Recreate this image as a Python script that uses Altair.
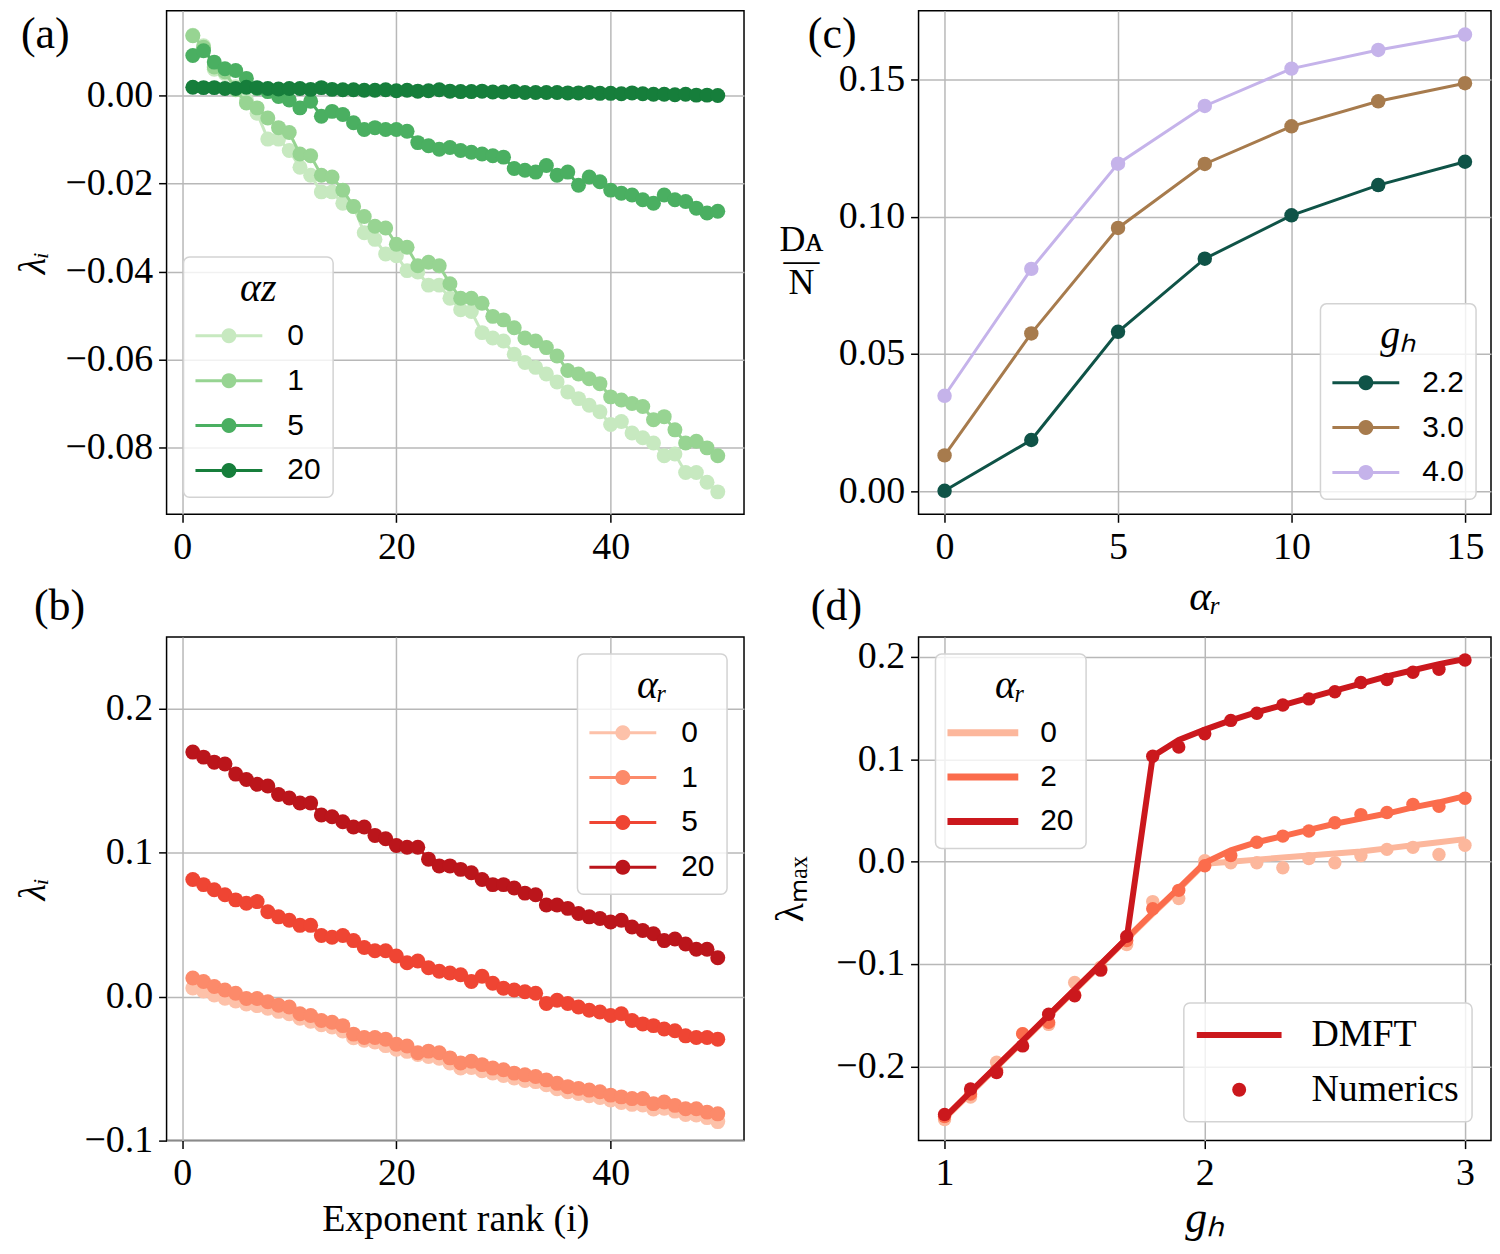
import math
import altair as alt
import pandas as pd

# ---------------- data ----------------
rank = list(range(1, 51))

a_labels = ["0", "1", "5", "20"]
a_az0 = [0.0137, 0.0113, 0.0060, 0.0050, 0.0020, -0.0010, -0.0040, -0.0099, -0.0099, -0.0125,
         -0.0163, -0.0181, -0.0219, -0.0219, -0.0245, -0.0252, -0.0312, -0.0327, -0.0360, -0.0364,
         -0.0398, -0.0401, -0.0431, -0.0431, -0.0461, -0.0487, -0.0491, -0.0539, -0.0551, -0.0558,
         -0.0588, -0.0607, -0.0618, -0.0633, -0.0651, -0.0674, -0.0689, -0.0704, -0.0719, -0.0748,
         -0.0741, -0.0767, -0.0778, -0.0790, -0.0819, -0.0815, -0.0857, -0.0857, -0.0879, -0.0901]
a_az1 = [0.0136, 0.0110, 0.0065, 0.0054, 0.0013, -0.0017, -0.0028, -0.0051, -0.0073, -0.0084,
         -0.0133, -0.0137, -0.0181, -0.0185, -0.0215, -0.0252, -0.0275, -0.0297, -0.0301, -0.0338,
         -0.0345, -0.0387, -0.0379, -0.0387, -0.0428, -0.0461, -0.0461, -0.0472, -0.0502, -0.0510,
         -0.0528, -0.0551, -0.0558, -0.0573, -0.0592, -0.0625, -0.0633, -0.0644, -0.0655, -0.0685,
         -0.0692, -0.0700, -0.0707, -0.0737, -0.0730, -0.0760, -0.0790, -0.0786, -0.0801, -0.0819]
a_az5 = [0.0091, 0.0102, 0.0076, 0.0061, 0.0057, 0.0039, 0.0016, 0.0009, -0.0002, -0.0010,
         -0.0028, -0.0013, -0.0047, -0.0036, -0.0043, -0.0062, -0.0077, -0.0073, -0.0077, -0.0077,
         -0.0081, -0.0107, -0.0114, -0.0122, -0.0118, -0.0125, -0.0129, -0.0133, -0.0137, -0.0140,
         -0.0166, -0.0170, -0.0174, -0.0159, -0.0181, -0.0174, -0.0204, -0.0185, -0.0196, -0.0215,
         -0.0222, -0.0226, -0.0237, -0.0245, -0.0226, -0.0237, -0.0241, -0.0256, -0.0267, -0.0263]
a_az20 = [0.0019, 0.0018, 0.0018, 0.0016, 0.0016, 0.0019, 0.0018, 0.0016, 0.0015, 0.0016,
          0.0016, 0.0014, 0.0018, 0.0014, 0.0013, 0.0013, 0.0012, 0.0012, 0.0013, 0.0011,
          0.0012, 0.0010, 0.0011, 0.0013, 0.0010, 0.0009, 0.0009, 0.0010, 0.0008, 0.0008,
          0.0009, 0.0007, 0.0007, 0.0007, 0.0007, 0.0006, 0.0006, 0.0007, 0.0005, 0.0005,
          0.0004, 0.0006, 0.0004, 0.0003, 0.0003, 0.0002, 0.0003, 0.0001, 0.0001, 0.0000]

b_labels = ["0", "1", "5", "20"]
b_ar0 = [0.0060, 0.0040, 0.0012, -0.0010, -0.0030, -0.0050, -0.0062, -0.0080, -0.0102, -0.0118,
         -0.0150, -0.0170, -0.0195, -0.0210, -0.0238, -0.0285, -0.0302, -0.0315, -0.0340, -0.0365,
         -0.0380, -0.0402, -0.0415, -0.0428, -0.0460, -0.0495, -0.0492, -0.0515, -0.0530, -0.0548,
         -0.0565, -0.0582, -0.0590, -0.0612, -0.0640, -0.0660, -0.0672, -0.0688, -0.0700, -0.0718,
         -0.0735, -0.0748, -0.0752, -0.0780, -0.0775, -0.0795, -0.0818, -0.0822, -0.0840, -0.0868]
b_ar1 = [0.0130, 0.0106, 0.0071, 0.0047, 0.0024, -0.0012, -0.0012, -0.0035, -0.0059, -0.0071,
         -0.0118, -0.0130, -0.0165, -0.0177, -0.0201, -0.0260, -0.0283, -0.0283, -0.0295, -0.0330,
         -0.0342, -0.0390, -0.0378, -0.0390, -0.0425, -0.0460, -0.0449, -0.0472, -0.0496, -0.0507,
         -0.0531, -0.0543, -0.0555, -0.0578, -0.0602, -0.0625, -0.0637, -0.0649, -0.0661, -0.0684,
         -0.0696, -0.0708, -0.0708, -0.0743, -0.0732, -0.0755, -0.0779, -0.0779, -0.0802, -0.0814]
b_ar5 = [0.0814, 0.0779, 0.0743, 0.0708, 0.0673, 0.0649, 0.0661, 0.0590, 0.0555, 0.0531,
         0.0496, 0.0496, 0.0425, 0.0413, 0.0425, 0.0390, 0.0342, 0.0319, 0.0319, 0.0283,
         0.0236, 0.0248, 0.0201, 0.0177, 0.0165, 0.0153, 0.0106, 0.0142, 0.0094, 0.0059,
         0.0047, 0.0035, 0.0024, -0.0047, -0.0024, -0.0047, -0.0071, -0.0094, -0.0106, -0.0130,
         -0.0118, -0.0165, -0.0189, -0.0201, -0.0224, -0.0236, -0.0272, -0.0283, -0.0283, -0.0295]
b_ar20 = [0.1700, 0.1665, 0.1630, 0.1617, 0.1547, 0.1510, 0.1476, 0.1464, 0.1405, 0.1381,
          0.1346, 0.1346, 0.1263, 0.1251, 0.1216, 0.1180, 0.1180, 0.1121, 0.1098, 0.1051,
          0.1039, 0.1039, 0.0956, 0.0909, 0.0909, 0.0885, 0.0862, 0.0814, 0.0779, 0.0779,
          0.0755, 0.0720, 0.0708, 0.0637, 0.0637, 0.0614, 0.0578, 0.0555, 0.0543, 0.0519,
          0.0531, 0.0484, 0.0460, 0.0437, 0.0390, 0.0401, 0.0366, 0.0330, 0.0330, 0.0271]

c_alpha_r = [0, 2.5, 5, 7.5, 10, 12.5, 15]
c_labels = ["2.2", "3.0", "4.0"]
c_gh22 = [0.0002, 0.0187, 0.0581, 0.0847, 0.1005, 0.1115, 0.1200]
c_gh30 = [0.0131, 0.0575, 0.0959, 0.1192, 0.1329, 0.1420, 0.1486]
c_gh40 = [0.0348, 0.0810, 0.1193, 0.1403, 0.1539, 0.1607, 0.1663]

d_gh = [1.0, 1.1, 1.2, 1.3, 1.4, 1.5, 1.6, 1.7, 1.8, 1.9, 2.0,
        2.1, 2.2, 2.3, 2.4, 2.5, 2.6, 2.7, 2.8, 2.9, 3.0]
d_labels = ["0", "2", "20"]
d_dmft_0 = [-0.251, -0.226, -0.201, -0.176, -0.151, -0.126, -0.101, -0.076, -0.051, -0.027, -0.002,
            0.000, 0.002, 0.004, 0.006, 0.008, 0.010, 0.013, 0.016, 0.019, 0.022]
d_dmft_2 = [-0.250, -0.225, -0.200, -0.175, -0.150, -0.125, -0.100, -0.075, -0.050, -0.026, -0.001,
            0.011, 0.019, 0.025, 0.031, 0.037, 0.042, 0.047, 0.053, 0.058, 0.064]
d_dmft_20 = [-0.250, -0.225, -0.200, -0.175, -0.150, -0.125, -0.100, -0.075, 0.103, 0.119, 0.129,
             0.138, 0.146, 0.153, 0.160, 0.167, 0.174, 0.181, 0.187, 0.193, 0.198]
d_num_0 = [-0.252, -0.230, -0.196, -0.168, -0.159, -0.118, -0.103, -0.081, -0.039, -0.036, 0.001,
           -0.001, -0.001, -0.006, 0.003, -0.001, 0.006, 0.012, 0.014, 0.007, 0.016]
d_num_2 = [-0.249, -0.227, -0.204, -0.168, -0.157, -0.130, -0.105, -0.077, -0.046, -0.028, -0.004,
           0.006, 0.019, 0.025, 0.030, 0.038, 0.046, 0.048, 0.056, 0.054, 0.062]
d_num_20 = [-0.247, -0.222, -0.206, -0.180, -0.149, -0.131, -0.106, -0.073, 0.103, 0.112, 0.125,
            0.138, 0.145, 0.153, 0.159, 0.166, 0.175, 0.178, 0.185, 0.188, 0.197]
d_kinds = ["DMFT", "Numerics"]

# ---------------- styling ----------------
greens = ["#c7e9c0", "#97d492", "#4aaf61", "#167e3b"]
reds_b = ["#fdc1a9", "#fc8a6a", "#ef4533", "#bb151b"]
c_cols = ["#0f5347", "#a77b4d", "#c5b3ea"]
reds_d = ["#fcb79c", "#fb6c4c", "#cb181d"]

SERIF = "Liberation Serif"
SANS = "Liberation Sans"
W1, W2, H = 579, 574, 505

# legend symbol: horizontal bar with a dot in the middle (polygonal circle, same winding)
_circle = " L".join(f"{math.cos(math.radians(a)):.3f},{math.sin(math.radians(a)):.3f}"
                    for a in range(0, 360, 15))
LINE_DOT = f"M-4.47,-0.2 L4.47,-0.2 L4.47,0.2 L-4.47,0.2 Z M{_circle} Z"
THICK_LINE = "M-4,0H4"
DMFT_RECT = "M-6.07,-0.43H6.07V0.43H-6.07Z"


def long_df(xs, series, labels, xname, gname):
    rows = []
    for lab, ys in zip(labels, series):
        for x, y in zip(xs, ys):
            rows.append({xname: x, "v": y, gname: lab, "line_" + gname: lab})
    return pd.DataFrame(rows)


def linedot(df, gname, dom, cols, xenc, yenc, legend, lw, size):
    layers = []
    for k, col in zip(dom, cols):
        base = alt.Chart(df).transform_filter(alt.datum[gname] == k)
        layers.append(base.mark_line(strokeWidth=lw, color=col, clip=True).encode(
            x=xenc, y=yenc))
        layers.append(base.mark_point(filled=True, size=size, opacity=1, clip=True).encode(
            x=xenc, y=yenc,
            color=alt.Color(f"{gname}:N", scale=alt.Scale(domain=dom, range=cols),
                            legend=legend)))
    return alt.layer(*layers)


def ld_legend(title, orient, offset, label_offset=43.5):
    return alt.Legend(title=title, orient=orient, offset=offset, symbolType=LINE_DOT,
                      symbolSize=225, symbolOffset=18.5, labelOffset=label_offset,
                      symbolStrokeWidth=0, titleFontStyle="italic")


# ---------------- panel (a) ----------------
df_a = long_df(rank, [a_az0, a_az1, a_az5, a_az20], a_labels, "i", "az")
xa = alt.X("i:Q", scale=alt.Scale(domain=[-1.45, 52.45], nice=False, zero=False),
           axis=alt.Axis(values=[0, 20, 40], format="d", title=None))
ya = alt.Y("v:Q", scale=alt.Scale(domain=[-0.0952, 0.0193], nice=False, zero=False),
           axis=alt.Axis(values=[-0.08, -0.06, -0.04, -0.02, 0.0], format=".2f", title="λᵢ",
                         titleFontStyle="italic", titleFontSize=38, titleX=-114))
chart_a = linedot(df_a, "az", a_labels, greens, xa, ya,
                  ld_legend("αz", "bottom-left", 17), 3, 225).properties(
    width=W1, height=H,
    title=alt.TitleParams("(a)", anchor="start", frame="bounds", offset=-46, dx=6))

# ---------------- panel (b) ----------------
df_b = long_df(rank, [b_ar0, b_ar1, b_ar5, b_ar20], b_labels, "i", "ar")
xb = alt.X("i:Q", scale=alt.Scale(domain=[-1.45, 52.45], nice=False, zero=False),
           axis=alt.Axis(values=[0, 20, 40], format="d", title="Exponent rank (i)",
                         titleFontSize=38, titlePadding=8))
yb = alt.Y("v:Q", scale=alt.Scale(domain=[-0.1, 0.25], nice=False, zero=False),
           axis=alt.Axis(values=[-0.1, 0.0, 0.1, 0.2], format=".1f", title="λᵢ",
                         titleFontStyle="italic", titleFontSize=38, titleX=-114))
chart_b = linedot(df_b, "ar", b_labels, reds_b, xb, yb,
                  ld_legend("αᵣ", "top-right", 17), 3, 225).properties(
    width=W1, height=H,
    title=alt.TitleParams("(b)", anchor="start", frame="bounds", offset=8, dx=19))

# ---------------- panel (c) ----------------
df_c = long_df(c_alpha_r, [c_gh22, c_gh30, c_gh40], c_labels, "a", "gh")
xc = alt.X("a:Q", scale=alt.Scale(domain=[-0.75, 15.75], nice=False, zero=False),
           axis=alt.Axis(values=[0, 5, 10, 15], format="d", title="αᵣ",
                         titleFontStyle="italic", titleFontSize=42, titlePadding=10))
yc = alt.Y("v:Q", scale=alt.Scale(domain=[-0.00835, 0.175], nice=False, zero=False),
           axis=alt.Axis(values=[0.0, 0.05, 0.10, 0.15], format=".2f",
                         title=["Dᴀ", "—", "N"], titleAngle=0, titleAlign="center",
                         titleBaseline="middle", titleX=-118, titleY=229,
                         titleFontSize=36, titleLineHeight=22))
chart_c = linedot(df_c, "gh", c_labels, c_cols, xc, yc,
                  ld_legend("gₕ", "bottom-right", 15, label_offset=41.5), 3, 210).properties(
    width=W2, height=H,
    title=alt.TitleParams("(c)", anchor="start", frame="bounds", offset=-46, dx=29))

# ---------------- panel (d) ----------------
df_dl = long_df(d_gh, [d_dmft_0, d_dmft_2, d_dmft_20], d_labels, "g", "ar")
df_dp = long_df(d_gh, [d_num_0, d_num_2, d_num_20], d_labels, "g", "ar")
df_dp["kind"] = d_kinds[1]
xd = alt.X("g:Q", scale=alt.Scale(domain=[0.9, 3.1], nice=False, zero=False),
           axis=alt.Axis(values=[1, 2, 3], format="d", title="gₕ",
                         titleFontStyle="italic", titleFontSize=44, titlePadding=4))
yd = alt.Y("v:Q", scale=alt.Scale(domain=[-0.2725, 0.2195], nice=False, zero=False),
           axis=alt.Axis(values=[-0.2, -0.1, 0.0, 0.1, 0.2], format=".1f", title="λₘₐₓ",
                         titleFontSize=40, titleX=-108))
d_scale = alt.Scale(domain=d_labels, range=reds_d)
d_color_legend = alt.Legend(title="αᵣ", orient="top-left", offset=17, symbolType=THICK_LINE,
                            symbolSize=315, symbolStrokeWidth=7, symbolOffset=20.5,
                            labelOffset=42.5, rowPadding=14.5, titleFontStyle="italic")
d_shape_legend = alt.Legend(title=None, orient="bottom-right", offset=19, symbolSize=196,
                            symbolOffset=23.5, labelOffset=53.5, rowPadding=17, padding=13,
                            symbolFillColor="#cb181d", symbolStrokeColor="#cb181d",
                            symbolStrokeWidth=0, labelFont=SERIF, labelFontSize=38)
d_layers = []
for k in d_labels:
    d_layers.append(alt.Chart(df_dl).transform_filter(alt.datum.ar == k).mark_line(
        strokeWidth=6, clip=True).encode(
        x=xd, y=yd, stroke=alt.Stroke("ar:N", scale=d_scale, legend=d_color_legend)))
    d_layers.append(alt.Chart(df_dp).transform_filter(alt.datum.ar == k).mark_point(
        filled=True, size=180, opacity=1, clip=True).encode(
        x=xd, y=yd, fill=alt.Fill("line_ar:N", scale=d_scale, legend=None),
        shape=alt.Shape("kind:N", scale=alt.Scale(domain=d_kinds, range=[DMFT_RECT, "circle"]),
                        legend=d_shape_legend)))
chart_d = alt.layer(*d_layers).properties(
    width=W2, height=H,
    title=alt.TitleParams("(d)", anchor="start", frame="bounds", offset=8, dx=40))

# ---------------- assemble ----------------
chart = alt.concat(chart_a, chart_c, chart_b, chart_d, columns=2,
                   spacing={"row": -34, "column": 25}).properties(
    padding={"left": 6, "top": 0, "right": 0, "bottom": 0}
).resolve_scale(
    x="independent", y="independent", color="independent", fill="independent",
    stroke="independent", shape="independent"
).configure_view(
    stroke="black", strokeWidth=1.5
).configure_axis(
    labelFont=SERIF, labelFontSize=38, labelColor="black", tickColor="black", tickSize=8,
    tickWidth=1.5, labelPadding=6, domain=False, gridColor="#b8b8b8", gridWidth=1.5,
    titleFont=SERIF, titleFontWeight="normal", titleColor="black"
).configure_legend(
    labelFont=SANS, labelFontSize=30, labelColor="black", titleFont=SERIF, titleFontSize=40,
    titleFontWeight="normal", titleColor="black", strokeColor="#d3d3d3", strokeWidth=1.5,
    fillColor="rgba(255,255,255,0.8)", cornerRadius=6, padding=12, titleAnchor="middle",
    titlePadding=12, rowPadding=15, labelLimit=400
).configure_title(
    font=SERIF, fontSize=44, fontWeight="normal", color="black"
)

chart.save("out.html", embed_options={"renderer": "svg", "actions": False})
